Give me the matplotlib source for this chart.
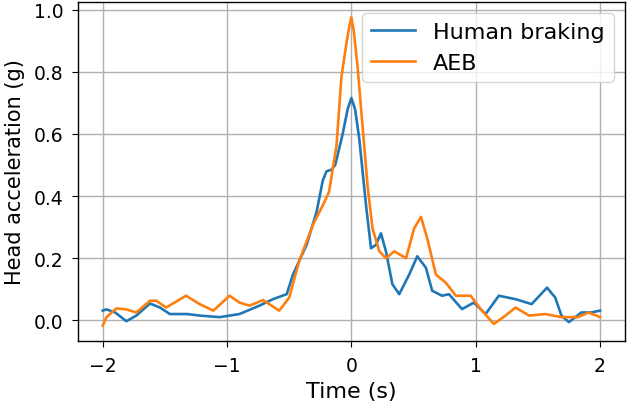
import matplotlib
matplotlib.use('Agg')
import matplotlib.pyplot as plt

# values
t_human = [-2.0, -1.97, -1.9, -1.81, -1.73, -1.62, -1.54, -1.46, -1.32, -1.22, -1.06,
           -0.9, -0.74, -0.63, -0.52, -0.47, -0.36, -0.28, -0.23, -0.2, -0.16, -0.13, -0.07,
           -0.03, 0.0, 0.03, 0.064, 0.118, 0.158, 0.198, 0.238, 0.278, 0.33, 0.385, 0.465,
           0.53, 0.6, 0.65, 0.73, 0.785, 0.89, 0.986, 1.08, 1.186, 1.32, 1.45, 1.574, 1.64,
           1.69, 1.75, 1.85, 1.93, 2.0]
a_human = [0.031, 0.035, 0.025, -0.003, 0.015, 0.054, 0.041, 0.02, 0.02, 0.015, 0.01,
           0.02, 0.047, 0.068, 0.084, 0.147, 0.243, 0.349, 0.45, 0.48, 0.485, 0.5, 0.6,
           0.68, 0.716, 0.68, 0.583, 0.37, 0.232, 0.243, 0.28, 0.222, 0.116, 0.084, 0.147,
           0.206, 0.169, 0.095, 0.079, 0.084, 0.036, 0.057, 0.02, 0.079, 0.068, 0.052, 0.105,
           0.073, 0.015, -0.006, 0.025, 0.025, 0.031]

t_aeb = [-2.0, -1.97, -1.89, -1.81, -1.73, -1.62, -1.57, -1.49, -1.33, -1.22, -1.11,
         -0.98, -0.9, -0.82, -0.71, -0.58, -0.5, -0.42, -0.31, -0.23, -0.18, -0.12,
         -0.08, -0.04, -0.015, 0.0, 0.02, 0.05, 0.09, 0.13, 0.17, 0.225, 0.278, 0.345,
         0.44, 0.505, 0.56, 0.61, 0.68, 0.76, 0.84, 0.96, 1.04, 1.146, 1.24, 1.32, 1.43,
         1.56, 1.69, 1.82, 1.91, 2.0]
a_aeb = [-0.017, 0.01, 0.038, 0.035, 0.025, 0.063, 0.063, 0.041, 0.079, 0.052, 0.031,
         0.079, 0.057, 0.047, 0.065, 0.031, 0.073, 0.19, 0.307, 0.37, 0.413, 0.561,
         0.784, 0.891, 0.95, 0.976, 0.93, 0.816, 0.625, 0.434, 0.296, 0.222, 0.2, 0.222,
         0.2, 0.296, 0.333, 0.264, 0.147, 0.121, 0.079, 0.079, 0.036, -0.012, 0.015, 0.041,
         0.015, 0.02, 0.01, 0.01, 0.025, 0.01]

plt.rcParams['font.size'] = 13.5
plt.rcParams['xtick.major.size'] = 4.5
plt.rcParams['ytick.major.size'] = 4.5
plt.rcParams['xtick.major.pad'] = 6
plt.rcParams['ytick.major.pad'] = 6
plt.rcParams['grid.linewidth'] = 1.0
plt.rcParams['axes.linewidth'] = 1.0

fig, ax = plt.subplots(figsize=(6.28, 4.1), dpi=100)
ax.plot(t_human, a_human, color='#1f77b4', lw=1.9, label='Human braking')
ax.plot(t_aeb, a_aeb, color='#ff7f0e', lw=1.9, label='AEB')
ax.grid(True)
ax.set_xticks([-2, -1, 0, 1, 2])
ax.set_xlabel('Time (s)', fontsize=16, labelpad=5)
ax.set_ylabel('Head acceleration (g)', fontsize=15, labelpad=6)
ax.legend(loc='upper right', fontsize=16)
fig.subplots_adjust(left=0.124, right=0.995, top=0.993, bottom=0.166)
fig.savefig('out.png')
